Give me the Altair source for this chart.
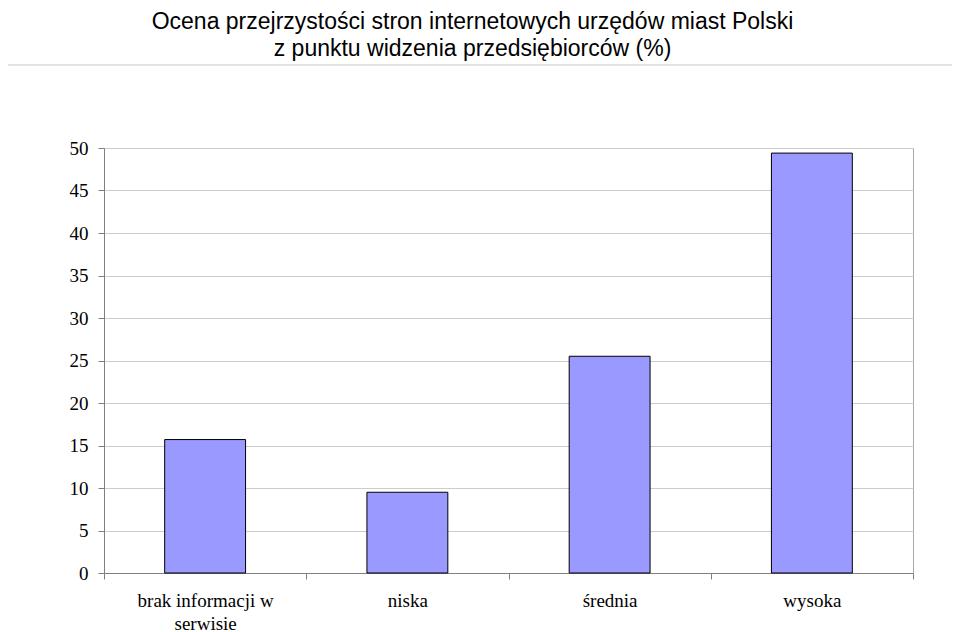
import altair as alt
import pandas as pd

categories = ["brak informacji w\nserwisie", "niska", "średnia", "wysoka"]
values = [15.7, 9.5, 25.5, 49.4]
y_ticks = [0, 5, 10, 15, 20, 25, 30, 35, 40, 45, 50]
title_lines = [
    "Ocena przejrzystości stron internetowych urzędów miast Polski",
    "z punktu widzenia przedsiębiorców (%)",
]

df = pd.DataFrame({"kategoria": categories, "wartosc": values})

bars = alt.Chart(df).mark_bar(
    color="#9999FF", stroke="#000000", strokeWidth=1,
    width=alt.RelativeBandSize(0.4),
).encode(
    x=alt.X(
        "kategoria:N", sort=categories,
        scale=alt.Scale(paddingInner=0, paddingOuter=0),
        axis=alt.Axis(
            title=None, labelAngle=0, tickBand="extent",
            labelFont="Liberation Serif", labelFontSize=19, labelColor="#000000",
            labelPadding=12, labelExpr="split(datum.label, '\\n')",
            labelLineHeight=23, labelBaseline="top",
            domainColor="#808080", tickColor="#808080", tickSize=6, grid=False,
        ),
    ),
    y=alt.Y(
        "wartosc:Q",
        scale=alt.Scale(domain=[0, 50], nice=False),
        axis=alt.Axis(
            title=None, values=y_ticks,
            labelFont="Liberation Serif", labelFontSize=19, labelColor="#000000",
            labelPadding=10, tickSize=6, tickColor="#808080",
            domainColor="#808080", gridColor="#cccccc",
        ),
    ),
)

sep = alt.Chart(alt.Data(values=[{}])).mark_rule(color="#e3e3e3", strokeWidth=2).encode(
    x=alt.value(-104), x2=alt.value(856), y=alt.value(-83)
)

chart = alt.layer(sep, bars).properties(
    width=809, height=425,
    autosize=alt.AutoSizeParams(type="none"),
    padding={"left": 96, "top": 140, "right": 39, "bottom": 59},
    title=alt.TitleParams(
        title_lines, font="Liberation Sans", fontSize=23, fontWeight="normal",
        color="#000000", anchor="middle", dx=-36, offset=3, lineHeight=27,
    ),
).configure_view(stroke="#aaaaaa")

chart.save("out.html", embed_options={"renderer": "svg", "actions": False})
